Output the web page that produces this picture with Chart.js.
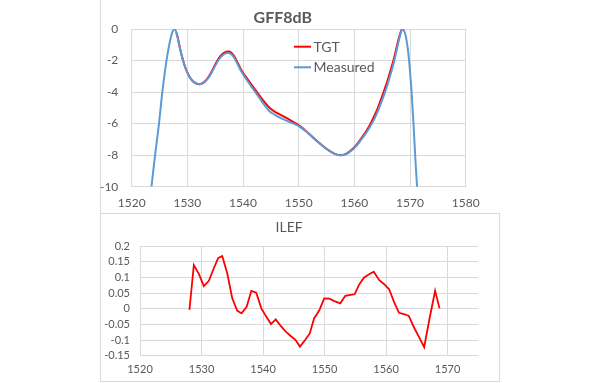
<!DOCTYPE html>
<html>
<head>
<meta charset="utf-8">
<script src="https://cdn.jsdelivr.net/npm/chart.js@4.4.1/dist/chart.umd.min.js"></script>
<style>
  html, body { margin: 0; padding: 0; background: #ffffff; }
  body { width: 600px; height: 383px; position: relative; overflow: hidden; }
  canvas { position: absolute; }
  #c1 { left: 100px; top: 0px; }
  #c2 { left: 100px; top: 213px; }
  #leftLine { position: absolute; left: 100px; top: 0; width: 1px; height: 213px; background: #d9d9d9; }
  #box2 { position: absolute; left: 100px; top: 213px; width: 400px; height: 169px; box-sizing: border-box; border: 1px solid #d9d9d9; pointer-events: none; }
</style>
</head>
<body>
<div id="leftLine"></div>
<canvas id="c1" width="400" height="213"></canvas>
<canvas id="c2" width="400" height="169"></canvas>
<div id="box2"></div>
<script>
// ---- Data ----
const topTitle = "GFF8dB";
const bottomTitle = "ILEF";
const tgtLabel = "TGT";
const measuredLabel = "Measured";

const measuredX = [1523.55, 1524.2, 1524.9, 1525.5, 1526.25, 1526.8, 1527.3, 1527.75, 1528.2, 1528.6, 1529.0, 1529.4, 1529.8, 1530.3, 1530.9, 1531.5, 1532.2, 1532.9, 1533.6, 1534.3, 1535.0, 1535.7, 1536.4, 1537.0, 1537.4, 1537.9, 1538.4, 1538.9, 1539.4, 1540.0, 1540.7, 1541.5, 1542.3, 1543.1, 1543.9, 1544.7, 1545.6, 1546.5, 1547.4, 1548.4, 1549.4, 1550.4, 1551.4, 1552.4, 1553.4, 1554.4, 1555.4, 1556.4, 1557.5, 1558.5, 1559.3, 1560.0, 1560.7, 1561.4, 1562.2, 1562.9, 1563.6, 1564.3, 1565.0, 1565.8, 1566.4, 1567.0, 1567.5, 1567.9, 1568.3, 1568.6, 1568.9, 1569.2, 1569.7, 1570.0, 1570.3, 1570.65, 1571.0, 1571.3];
const measuredY = [-10, -8, -6, -4, -2, -0.9, -0.2, 0, -0.45, -1.1, -1.7, -2.2, -2.6, -2.98, -3.28, -3.44, -3.5, -3.42, -3.18, -2.8, -2.33, -1.92, -1.65, -1.53, -1.52, -1.6, -1.82, -2.15, -2.5, -2.87, -3.25, -3.65, -4.05, -4.45, -4.85, -5.2, -5.42, -5.6, -5.75, -5.9, -6.05, -6.25, -6.52, -6.83, -7.15, -7.45, -7.7, -7.9, -8.0, -7.93, -7.75, -7.55, -7.27, -6.94, -6.55, -6.15, -5.7, -5.15, -4.5, -3.7, -3.0, -2.25, -1.5, -0.85, -0.3, 0, -0.1, -0.4, -1.55, -2.7, -4.1, -6.2, -8.5, -10.2];

const tgtX = [1528.0, 1528.2, 1528.6, 1529.0, 1529.4, 1529.8, 1530.3, 1530.9, 1531.5, 1532.2, 1532.9, 1533.6, 1534.3, 1535.0, 1535.7, 1536.4, 1537.0, 1537.4, 1537.9, 1538.4, 1538.9, 1539.4, 1540.0, 1540.7, 1541.5, 1542.3, 1543.1, 1543.9, 1544.7, 1545.6, 1546.5, 1547.4, 1548.4, 1549.4, 1550.4, 1551.4, 1552.4, 1553.4, 1554.4, 1555.4, 1556.4, 1557.5, 1558.5, 1559.3, 1560.0, 1560.7, 1561.4, 1562.2, 1562.9, 1563.6, 1564.3, 1565.0, 1565.8, 1566.4, 1567.0, 1567.5, 1567.9, 1568.3, 1568.6, 1568.8];
const tgtY = [-0.22, -0.45, -1.1, -1.7, -2.2, -2.6, -2.98, -3.28, -3.44, -3.5, -3.4, -3.14, -2.74, -2.25, -1.83, -1.56, -1.44, -1.43, -1.51, -1.72, -2.04, -2.4, -2.77, -3.13, -3.52, -3.9, -4.28, -4.66, -4.98, -5.22, -5.4, -5.57, -5.76, -5.96, -6.2, -6.5, -6.82, -7.14, -7.44, -7.7, -7.9, -8.0, -7.92, -7.73, -7.5, -7.2, -6.86, -6.43, -6.0, -5.5, -4.93, -4.25, -3.45, -2.75, -2.02, -1.3, -0.7, -0.22, 0, -0.05];

const ilefX = [1528.04, 1528.75, 1529.57, 1530.38, 1531.2, 1532.0, 1532.7, 1533.37, 1534.18, 1535.0, 1535.8, 1536.5, 1537.34, 1538.1, 1538.9, 1539.73, 1540.54, 1541.3, 1542.07, 1542.88, 1543.7, 1544.5, 1545.3, 1546.0, 1546.85, 1547.6, 1548.3, 1549.13, 1549.95, 1550.8, 1551.6, 1552.56, 1553.38, 1554.2, 1554.9, 1555.6, 1556.4, 1557.25, 1558.0, 1558.9, 1559.7, 1560.5, 1561.3, 1562.1, 1562.9, 1563.7, 1564.55, 1565.37, 1566.2, 1567.06, 1567.98, 1568.7];
const ilefY = [-0.004, 0.139, 0.111, 0.072, 0.089, 0.129, 0.161, 0.168, 0.113, 0.033, -0.006, -0.015, 0.006, 0.057, 0.051, 0.001, -0.026, -0.049, -0.034, -0.055, -0.073, -0.087, -0.1, -0.121, -0.1, -0.079, -0.031, -0.006, 0.033, 0.032, 0.024, 0.017, 0.041, 0.044, 0.046, 0.076, 0.099, 0.11, 0.118, 0.091, 0.078, 0.062, 0.022, -0.013, -0.017, -0.023, -0.06, -0.091, -0.123, -0.033, 0.057, 0.001];

// axis ranges / ticks
const topXRange = [1520, 1580], topXStep = 10;
const topYRange = [-10, 0], topYStep = 2;
const botXRange = [1520, 1575], botXStep = 10;
const botYRange = [-0.15, 0.2], botYStep = 0.05;

// ---- helpers ----
const zip = (xs, ys) => xs.map((x, i) => ({ x: x, y: ys[i] }));
const fmt = v => String(Math.round(v * 100) / 100);
const GRID = '#d9d9d9';
const TXT = '#595959';
const FONT = 'Lato, "Open Sans", "Liberation Sans", sans-serif';

Chart.defaults.font.family = FONT;
Chart.defaults.color = TXT;

const insideLegend = {
  id: 'insideLegend',
  afterDatasetsDraw(chart) {
    const ctx = chart.ctx;
    const ds = chart.data.datasets;
    const ys = [46.7, 67.3];
    ctx.save();
    ctx.font = '14px ' + FONT;
    ctx.textBaseline = 'middle';
    ctx.textAlign = 'left';
    [0, 1].forEach((idx, r) => {
      const d = ds[idx];
      ctx.strokeStyle = d.borderColor;
      ctx.lineWidth = 2;
      ctx.beginPath();
      ctx.moveTo(194, ys[r]);
      ctx.lineTo(211, ys[r]);
      ctx.stroke();
      ctx.fillStyle = TXT;
      ctx.fillText(d.label, 213.5, ys[r] + 0.5);
    });
    ctx.restore();
  }
};

// ---- top chart ----
new Chart(document.getElementById('c1'), {
  type: 'line',
  data: {
    datasets: [
      { label: tgtLabel, data: zip(tgtX, tgtY), borderColor: '#ff0000', borderWidth: 2,
        pointRadius: 0, cubicInterpolationMode: 'monotone', order: 1, fill: false },
      { label: measuredLabel, data: zip(measuredX, measuredY), borderColor: '#5b9bd5', borderWidth: 2,
        pointRadius: 0, cubicInterpolationMode: 'monotone', order: 0, fill: false }
    ]
  },
  options: {
    responsive: false,
    animation: false,
    devicePixelRatio: 1,
    layout: { padding: { left: 0, right: 34.3, top: 0, bottom: 0 } },
    plugins: {
      legend: { display: false },
      tooltip: { enabled: false },
      title: { display: true, text: topTitle, color: TXT,
        font: { size: 16, weight: 'bold', family: FONT, lineHeight: 1.2 },
        padding: { top: 8, bottom: 1.8 } }
    },
    scales: {
      x: {
        type: 'linear', min: topXRange[0], max: topXRange[1],
        grid: { color: GRID, drawTicks: false, lineWidth: 1 },
        border: { display: false },
        ticks: { stepSize: topXStep, autoSkip: false, maxRotation: 0, padding: 9.4,
          font: { size: 12 }, color: TXT, callback: v => String(v) },
        afterFit: s => { s.height = 26.3; }
      },
      y: {
        type: 'linear', min: topYRange[0], max: topYRange[1],
        grid: { color: GRID, drawTicks: false, lineWidth: 1 },
        border: { display: false },
        ticks: { stepSize: topYStep, autoSkip: false, padding: 13.4, font: { size: 12 }, color: TXT, callback: v => fmt(v) },
        afterFit: s => { s.width = 31.7; }
      }
    }
  },
  plugins: [insideLegend]
});

// ---- bottom chart ----
new Chart(document.getElementById('c2'), {
  type: 'line',
  data: {
    datasets: [
      { label: bottomTitle, data: zip(ilefX, ilefY), borderColor: '#ff0000', borderWidth: 1.8,
        pointRadius: 0, tension: 0, fill: false }
    ]
  },
  options: {
    responsive: false,
    animation: false,
    devicePixelRatio: 1,
    layout: { padding: { left: 0, right: 21.7, top: 0, bottom: 0 } },
    plugins: {
      legend: { display: false },
      tooltip: { enabled: false },
      title: { display: true, text: bottomTitle, color: TXT,
        font: { size: 14, weight: 'normal', family: FONT, lineHeight: 1.2 },
        padding: { top: 6, bottom: 10.2 } }
    },
    scales: {
      x: {
        type: 'linear', min: botXRange[0], max: botXRange[1],
        grid: { color: GRID, drawTicks: false, lineWidth: 1 },
        border: { display: false },
        ticks: { stepSize: botXStep, includeBounds: false, autoSkip: false, maxRotation: 0, padding: 7,
          font: { size: 11 }, color: TXT, callback: v => String(v) },
        afterFit: s => { s.height = 26.3; }
      },
      y: {
        type: 'linear', min: botYRange[0], max: botYRange[1],
        grid: { color: GRID, drawTicks: false, lineWidth: 1 },
        border: { display: false },
        ticks: { stepSize: botYStep, autoSkip: false, padding: 10, font: { size: 11 }, color: TXT, callback: v => fmt(v) },
        afterFit: s => { s.width = 40; }
      }
    }
  }
});
</script>
</body>
</html>
